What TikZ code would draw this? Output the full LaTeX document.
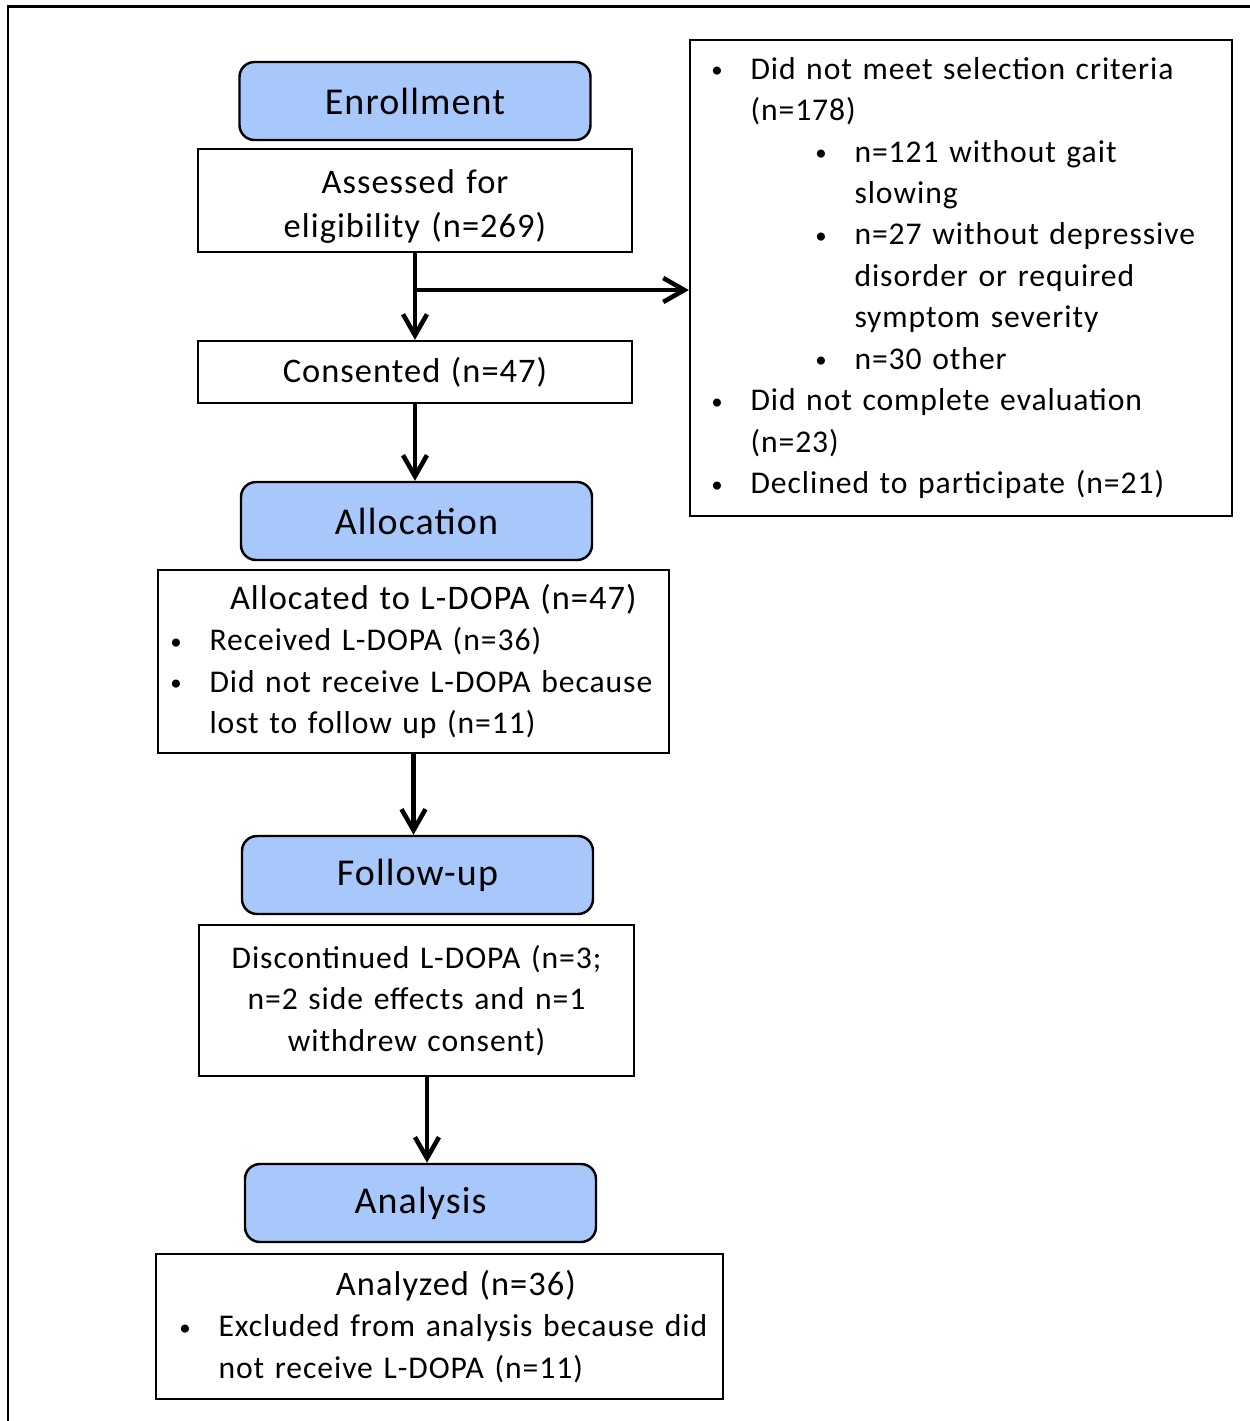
\documentclass[tikz,border=0pt]{standalone}
\usepackage{fontspec}
\setmainfont{Carlito}
\newfontfamily\boxfont[LetterSpace=3]{Carlito}
\usetikzlibrary{arrows.meta}

\definecolor{headblue}{RGB}{168,199,250}
\newcommand{\dotmark}{\makebox[0pt]{\raisebox{1pt}{\fontsize{13}{13}\selectfont\textbullet}}}
\newcommand{\bitem}[2]{\hspace*{#1}\makebox[0.67cm][l]{\dotmark}#2}
\newcommand{\bcont}[2]{\hspace*{#1}\hspace*{0.67cm}#2}
\newcommand{\btitle}[1]{{\fontsize{19.6}{23.6}\selectfont #1}}

\begin{document}
\begin{tikzpicture}
	\tikzstyle{head}=[rectangle, rounded corners=0.3cm, draw=black, line width=1.4pt, fill=headblue, minimum width=7.02cm, minimum height=1.56cm, font=\boxfont\fontsize{21.6}{24}\selectfont]
	\tikzstyle{box}=[rectangle, draw=black, line width=1.3pt, inner sep=0pt, align=center, font=\boxfont\fontsize{18}{23.6}\selectfont]
	\tikzstyle{arr}=[line width=2.6pt, -{Straight Barb[length=0.42cm, width=0.48cm]}]
	
	\useasboundingbox (0,0) rectangle (25,-28.42);
	\draw [line width=1.7pt] (0.16,-30) -- (0.16,-0.12) -- (26,-0.12);
	
	\draw node at (8.30,-2.02) [head] (enroll) {Enrollment};
	\draw node at (8.30,-4.01) [box, text width=8.68cm, minimum height=2.06cm, font=\boxfont\fontsize{19.6}{25.5}\selectfont] (assess) {\rule{0pt}{0.72cm}Assessed for\\eligibility (n=269)};
	\draw node at (8.30,-7.44) [box, text width=8.68cm, minimum height=1.24cm] (consent) {\btitle{Consented (n=47)}};
	
	\draw node at (19.22,-5.56) [box, align=left, text width=10.84cm, minimum height=9.52cm] (excluded) {\bitem{0.54cm}{Did not meet selection criteria}\\
		\bcont{0.54cm}{(n=178)}\\
		\bitem{2.62cm}{n=121 without gait}\\
		\bcont{2.62cm}{slowing}\\
		\bitem{2.62cm}{n=27 without depressive}\\
		\bcont{2.62cm}{disorder or required}\\
		\bcont{2.62cm}{symptom severity}\\
		\bitem{2.62cm}{n=30 other}\\
		\bitem{0.54cm}{Did not complete evaluation}\\
		\bcont{0.54cm}{(n=23)}\\
		\bitem{0.54cm}{Declined to participate (n=21)}};
	
	\coordinate (split) at (8.30,-5.80);
	\draw [arr] (assess.south) to (consent.north);
	\draw [arr] (split) to (split -| excluded.west);
	
	\draw node at (8.33,-10.42) [head] (alloc) {Allocation};
	\draw node at (8.27,-13.23) [box, align=left, text width=10.22cm, minimum height=3.66cm] (allocd) {\hspace*{1.44cm}\btitle{Allocated to L-DOPA (n=47)}\\
		\bitem{0.36cm}{Received L-DOPA (n=36)}\\
		\bitem{0.36cm}{Did not receive L-DOPA because}\\
		\bcont{0.36cm}{lost to follow up (n=11)}};
	
	\draw [arr] (consent.south) to (consent.south |- alloc.north);
	
	\draw node at (8.35,-17.50) [head] (follow) {Follow-up};
	\draw node at (8.33,-20.01) [box, text width=8.70cm, minimum height=3.02cm] (discont) {Discontinued L-DOPA (n=3;\\n=2 side effects and n=1\\withdrew consent)};
	
	\draw [arr] (allocd.south) to (allocd.south |- follow.north);
	
	\draw node at (8.41,-24.06) [head] (analysis) {Analysis};
	\draw node at (8.79,-26.53) [box, align=left, text width=11.34cm, minimum height=2.90cm] (analyzed) {\hspace*{3.60cm}\btitle{Analyzed (n=36)}\\
		\bitem{0.58cm}{Excluded from analysis because did}\\
		\bcont{0.58cm}{not receive L-DOPA (n=11)}};
	
	\draw [arr] ([xshift=0.21cm]discont.south) to ([xshift=0.21cm]discont.south |- analysis.north);
\end{tikzpicture}
\end{document}
